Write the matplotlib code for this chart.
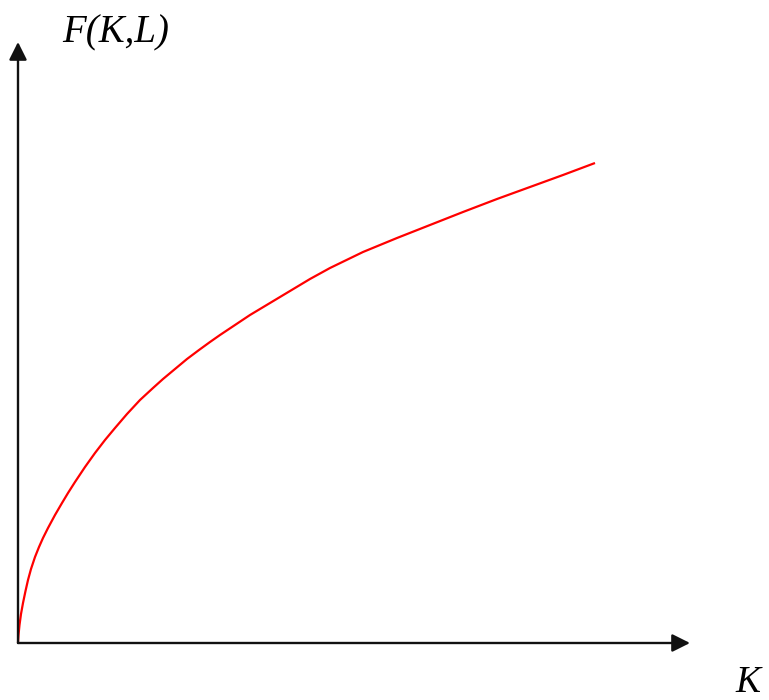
import numpy as np
import matplotlib
matplotlib.use("Agg")
import matplotlib.pyplot as plt

# production curve F(K,L) (K along x, F along y)
capital = [0, 0.5, 1.5, 3, 5, 7.5, 10, 13, 17, 21, 25, 30, 37, 44, 50, 57, 67, 77,
           87, 97, 109, 122, 135, 145, 157, 169, 181, 192, 202, 217, 232, 247,
           262, 277, 292, 312, 345, 379, 412, 445, 479, 512, 545, 577]
output = [0, 8, 18, 29, 40, 52, 63, 74, 86, 96, 105, 115, 128, 140, 150, 161, 176, 190,
          203, 215, 229, 243, 255, 264, 274, 284, 293, 301, 308, 318, 328, 337,
          346, 355, 364, 375, 391, 405, 418, 431, 444, 456, 468, 480]

x_label = "K"
y_label = "F(K,L)"

# axis extents (arrow tips)
k_max = 672
f_max = 601

fig = plt.figure(figsize=(7.69, 7.00), dpi=100)
ax = fig.add_axes([0, 0, 1, 1])
ax.set_xlim(-18, 751)
ax.set_ylim(-57, 643)
ax.axis("off")

arrow = dict(arrowstyle="-|>,head_length=0.4,head_width=0.2", mutation_scale=27,
             lw=1.7, color="#111111", shrinkA=0, shrinkB=0)
ax.annotate("", xy=(k_max, 0), xytext=(0, 0), arrowprops=arrow)
ax.annotate("", xy=(0, f_max), xytext=(0, 0), arrowprops=arrow)

ax.plot(capital, output, color="red", lw=1.6, solid_joinstyle="round",
        solid_capstyle="butt")

ax.text(44, 601, y_label, family="Liberation Serif", style="italic",
        fontsize=28, ha="left", va="baseline")
ax.text(717, -49, x_label, family="Liberation Serif", style="italic",
        fontsize=27, ha="left", va="baseline")

fig.savefig("out.png", dpi=100)
